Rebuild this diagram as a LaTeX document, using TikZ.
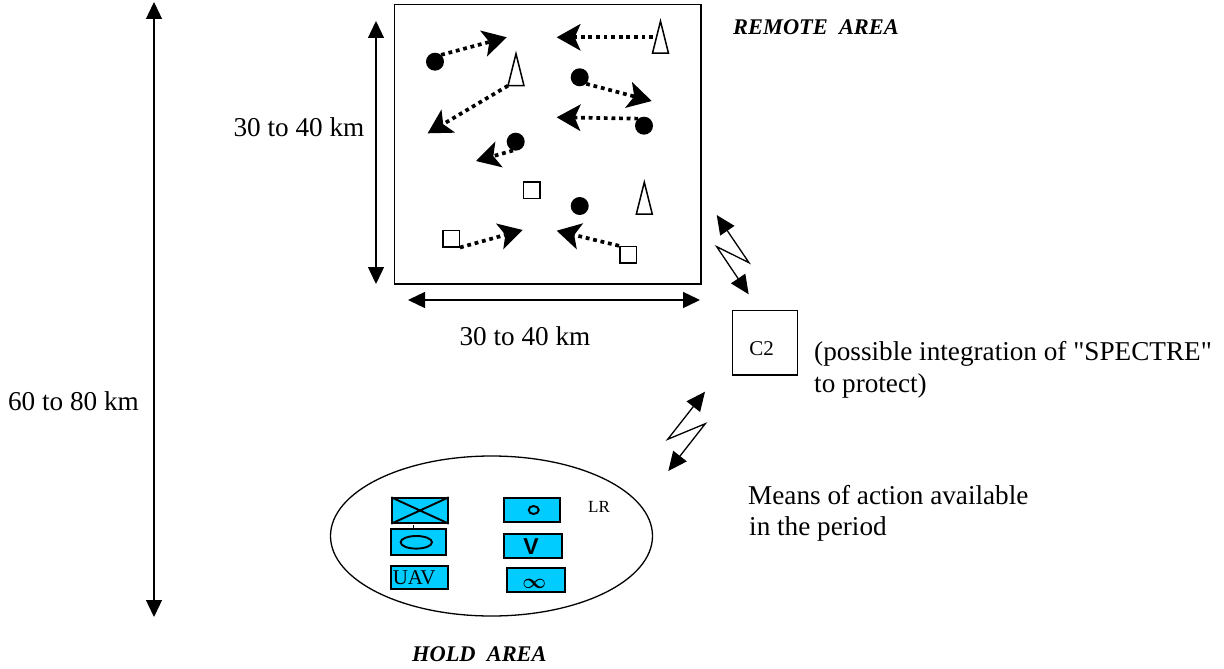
\documentclass[tikz,border=0pt]{standalone}
\usepackage{fontspec}
\setmainfont{Liberation Serif}
\newfontfamily\plainserif{Liberation Serif}
\newfontfamily\labelsans{Liberation Sans}
\usetikzlibrary{arrows.meta,shapes.geometric}
\definecolor{unitcyan}{HTML}{00CCFF}
\tikzset{
  dim/.style={line width=1.4pt,{Triangle[length=17pt,width=16pt]}-{Triangle[length=17pt,width=16pt]}},
  move/.style={line width=3.7pt,dash pattern=on 3.8pt off 3.8pt,-{Stealth[length=24pt,width=27pt,inset=6pt,line width=0pt]}},
  dot/.style={circle,fill=black,inner sep=0pt,minimum size=18pt},
  tri/.style={draw,line width=1.5pt,isosceles triangle,isosceles triangle stretches,shape border rotate=90,inner sep=0pt,minimum width=16pt,minimum height=32pt},
  sq/.style={draw,line width=1.5pt,inner sep=0pt,minimum size=16.5pt},
  unit/.style={draw,line width=1.9pt,fill=unitcyan,inner sep=0pt},
  txt/.style={font=\fontsize{27.2}{32}\selectfont,inner sep=0pt},
  area/.style={font=\fontsize{22.4}{26}\selectfont\bfseries\itshape,inner sep=0pt},
  small/.style={font=\fontsize{17}{20}\selectfont,inner sep=0pt},
  link/.style={line width=1.3pt,{Triangle[length=19pt,width=17pt]}-{Triangle[length=19pt,width=17pt]}},
}
\begin{document}
\begin{tikzpicture}[x=1pt,y=-1pt]
\useasboundingbox (0,0) rectangle (1224,669);
% remote area
\node[draw,line width=1.5pt,inner sep=0pt,minimum width=306.5pt,minimum height=279.5pt] (remote) at (547.75,144.25) {};
\node[dot] (d1) at (435,61.7) {};
\node[dot] (d2) at (579.7,77.3) {};
\node[dot] (d3) at (644,125.7) {};
\node[dot] (d4) at (515.7,141.7) {};
\node[dot] (d5) at (579.7,206) {};
\node[tri] (t1) at (660.5,47) {};
\node[tri] (t2) at (516,79.5) {};
\node[tri] (t3) at (644.3,208) {};
\node[sq] (s1) at (531.7,190) {};
\node[sq] (s2) at (451,238.5) {};
\node[sq] (s3) at (628,254.8) {};
\coordinate (e1) at (506.7,37.3);
\coordinate (e2) at (556.7,37.3);
\coordinate (e3) at (651.7,101);
\coordinate (e4) at (556.7,117.3);
\coordinate (e5) at (427.7,133.3);
\coordinate (e6) at (476,161);
\coordinate (e7) at (522.7,230);
\coordinate (e8) at (556.7,230.7);
\coordinate (b1) at (653,37.3);
\coordinate (b2) at (508,85.7);
\draw[move] (d1.48) -- (e1);
\draw[move] (b1) -- (e2);
\draw[move] (d2.-45) -- (e3);
\draw[move] (d3.130) -- (e4);
\draw[move] (b2) -- (e5);
\draw[move] (d4.-107) -- (e6);
\draw[move] (s2.south east) -- (e7);
\draw[move] (s3.north west) -- (e8);
% dimensions
\coordinate (v1a) at (154,2); \coordinate (v1b) at (154,617);
\coordinate (v2a) at (376,21); \coordinate (v2b) at (376,284);
\coordinate (h1a) at (408,300); \coordinate (h1b) at (700,300);
\draw[dim] (v1a) -- (v1b);
\draw[dim] (v2a) -- (v2b);
\draw[dim] (h1a) -- (h1b);
\node[txt] (l1) at (299,127) {30 to 40 km};
\node[txt] (l2) at (525,336) {30 to 40 km};
\node[txt] (l3) at (73.5,401) {60 to 80 km};
\node[area,anchor=west] (ra) at (733,27) {REMOTE\ \ AREA};
\node[area,anchor=west] (ha) at (412,654) {HOLD\ \ AREA};
% C2 and links
\node[draw,line width=1.3pt,inner sep=0pt,minimum width=65pt,minimum height=64.5pt] (c2) at (764.8,342.8) {};
\node[inner sep=0pt,font=\fontsize{21}{24}\selectfont] (c2t) at (761.7,348.5) {C2};
\coordinate (z1) at (716.7,215); \coordinate (z2) at (749,262.7);
\coordinate (z3) at (716.7,246.7); \coordinate (z4) at (748.7,294.3);
\draw[link] (z1) -- (z2) -- (z3) -- (z4);
\coordinate (y1) at (705,391.7); \coordinate (y2) at (667.7,439.3);
\coordinate (y3) at (705.3,423.7); \coordinate (y4) at (668.3,471);
\draw[link] (y1) -- (y2) -- (y3) -- (y4);
\node[txt,anchor=west] (p1) at (814,353.5) {\plainserif (possible integration of "SPECTRE"};
\node[txt,anchor=west] (p2) at (814,385.5) {to protect)};
\node[txt,anchor=west] (m1) at (748,495.5) {Means of action available};
\node[txt,anchor=west] (m2) at (749,529) {in the period};
% hold area
\node[draw,ellipse,line width=1.3pt,inner sep=0pt,minimum width=322pt,minimum height=160pt] (hold) at (491.5,536) {};
\node[unit,minimum width=55.4pt,minimum height=24.4pt] (u1) at (420,510.5) {};
\draw[line width=1.9pt] (u1.north west) -- (u1.south east) (u1.south west) -- (u1.north east);
\node[unit,minimum width=54.4pt,minimum height=26pt] (u2) at (418.5,542) {};
\draw[line width=1.9pt] (416.3,542.3) ellipse (15.7pt and 6.3pt);
\coordinate (tk) at (413.7,525);
\draw[line width=1pt] (tk) -- (u2.north -| tk);
\node[unit,minimum width=56.7pt,minimum height=23.6pt] (u3) at (419.6,577.5) {};
\node[inner sep=0pt,font=\fontsize{21}{24}\selectfont] (u3t) at (414.2,578) {UAV};
\node[unit,minimum width=56.3pt,minimum height=23.7pt] (u4) at (532.2,510.2) {};
\draw[line width=1.9pt] (533.7,510) ellipse (5pt and 4pt);
\node[unit,minimum width=58.3pt,minimum height=24pt] (u5) at (533.2,546) {};
\node[inner sep=0pt,font=\labelsans\fontsize{23}{24}\selectfont\bfseries] (u5t) at (531,546.7) {V};
\node[unit,minimum width=58pt,minimum height=24pt] (u6) at (536.3,580.3) {};
\node[inner sep=0pt,font=\fontsize{21}{24}\selectfont\boldmath] (inf) at (534.3,584) {$\infty$};
\node[small] (lr) at (599,507.3) {LR};
\end{tikzpicture}
\end{document}
